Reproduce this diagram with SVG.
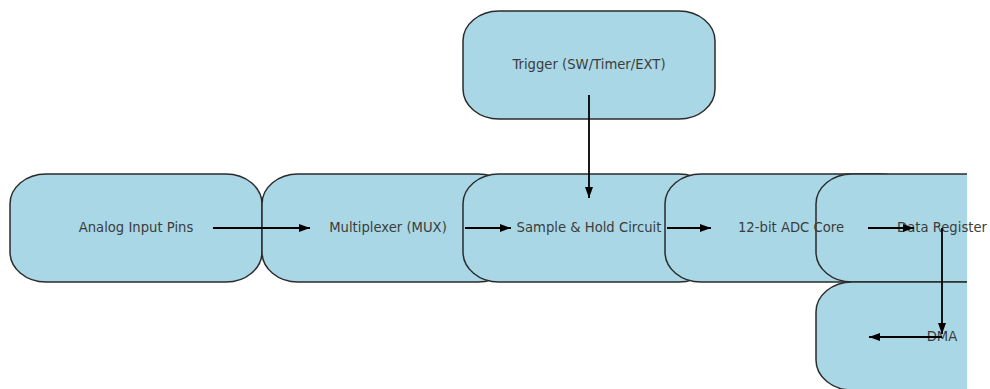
<svg xmlns="http://www.w3.org/2000/svg" width="990" height="389" viewBox="0 0 990 389">
  <style>
    .box { fill: #a9d7e5; stroke: #2b2b2b; stroke-width: 1.5; }
    .label { font-family: "DejaVu Sans", sans-serif; font-size: 13.2px; fill: #3c3c3c; text-anchor: middle; }
    .edge { stroke: #000; stroke-width: 1.8; fill: none; marker-end: url(#head); }
  </style>
  <defs>
    <marker id="head" markerWidth="11" markerHeight="11" viewBox="0 0 11 11" refX="11" refY="5.5" markerUnits="userSpaceOnUse" orient="auto">
      <path d="M0,1.5 L11,5.5 L0,9.5 Z" fill="#000"/>
    </marker>
    <clipPath id="plot">
      <rect x="0" y="0" width="967" height="389"/>
    </clipPath>
  </defs>
  <rect width="990" height="389" fill="#fff"/>
  <!-- box shapes, clipped to the plotting area; later boxes sit on top of earlier ones -->
  <g clip-path="url(#plot)">
    <g id="node-trigger">
      <rect class="box" x="463" y="11" width="252" height="108" rx="36" ry="30"/>
    </g>
    <g id="node-analog">
      <rect class="box" x="10" y="174" width="252" height="108" rx="36" ry="30"/>
    </g>
    <g id="node-mux">
      <rect class="box" x="262" y="174" width="252" height="108" rx="36" ry="30"/>
    </g>
    <g id="node-sample-hold">
      <rect class="box" x="463" y="174" width="252" height="108" rx="36" ry="30"/>
    </g>
    <g id="node-adc-core">
      <rect class="box" x="665" y="174" width="252" height="108" rx="36" ry="30"/>
    </g>
    <g id="node-data-register">
      <rect class="box" x="816" y="174" width="252" height="108" rx="36" ry="30"/>
    </g>
    <g id="node-dma">
      <rect class="box" x="816" y="282" width="252" height="108" rx="36" ry="30"/>
    </g>
  </g>
  <!-- labels are drawn above every box and are not clipped -->
  <g id="labels">
    <text class="label" x="589" y="69">Trigger (SW/Timer/EXT)</text>
    <text class="label" x="136" y="232">Analog Input Pins</text>
    <text class="label" x="388" y="232">Multiplexer (MUX)</text>
    <text class="label" x="589" y="232">Sample &amp; Hold Circuit</text>
    <text class="label" x="791" y="232">12-bit ADC Core</text>
    <text class="label" x="942" y="232">Data Register</text>
    <text class="label" x="942" y="341">DMA</text>
  </g>
  <g id="connectors">
    <line class="edge" x1="213" y1="228" x2="310" y2="228"/>
    <line class="edge" x1="465" y1="228" x2="511" y2="228"/>
    <line class="edge" x1="667" y1="228" x2="711" y2="228"/>
    <line class="edge" x1="868" y1="228" x2="914" y2="228"/>
    <line class="edge" x1="589" y1="95" x2="589" y2="198"/>
    <line class="edge" x1="942" y1="228" x2="942" y2="334"/>
    <line class="edge" x1="942" y1="337" x2="869" y2="337"/>
  </g>
</svg>
